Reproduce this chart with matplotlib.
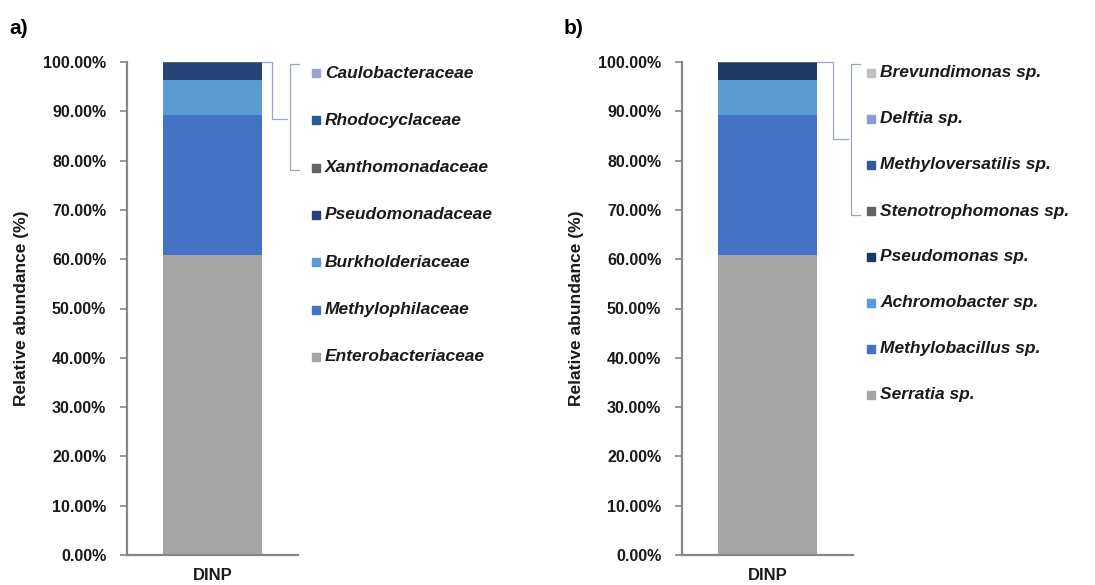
import matplotlib
matplotlib.use("Agg")
import matplotlib.pyplot as plt
from matplotlib.lines import Line2D

plt.rcParams['font.family'] = ['Liberation Sans', 'DejaVu Sans']

# data, listed from bottom of the stack to the top
sample = ["DINP"]

families = ["Enterobacteriaceae", "Methylophilaceae", "Burkholderiaceae",
            "Pseudomonadaceae", "Xanthomonadaceae", "Rhodocyclaceae",
            "Caulobacteraceae"]
family_vals = [60.9, 28.3, 7.1, 3.5, 0.1, 0.05, 0.05]
family_cols = ["#a5a5a5", "#4472c4", "#5b9bd5", "#264478",
               "#636363", "#255e91", "#9e9fd6"]

genera = ["Serratia sp.", "Methylobacillus sp.", "Achromobacter sp.",
          "Pseudomonas sp.", "Stenotrophomonas sp.", "Methyloversatilis sp.",
          "Delftia sp.", "Brevundimonas sp."]
genus_vals = [60.9, 28.3, 7.1, 3.5, 0.1, 0.05, 0.03, 0.02]
genus_cols = ["#a5a5a5", "#4472c4", "#5b9bd5", "#203864",
              "#636363", "#2e5c99", "#8c9bd0", "#c0c0c0"]

yticks = [0, 10, 20, 30, 40, 50, 60, 70, 80, 90, 100]

W, H = 1095, 585
fig = plt.figure(figsize=(W / 100, H / 100), dpi=100)


def fx(x):
    return x / W


def fy(y):
    return 1 - y / H


def pline(xs, ys, color="#9aa6c8"):
    fig.add_artist(Line2D([fx(v) for v in xs], [fy(v) for v in ys],
                          transform=fig.transFigure, color=color, lw=0.9))


def panel(left, letter, names, vals, cols, leg_y0, leg_dy, b1, b2):
    ax = fig.add_axes([fx(left), 30 / H, 171 / W, 493 / H])
    bottom = 0
    for v, c in zip(vals, cols):
        ax.bar(0, v, width=0.58, bottom=bottom, color=c, linewidth=0)
        bottom += v
    ax.set_xlim(-0.5, 0.5)
    ax.set_ylim(0, 100)
    ax.set_yticks(yticks)
    ax.set_yticklabels([f"{t:.2f}%" for t in yticks], fontsize=11.5,
                       fontweight="bold", color="#1a1a1a")
    ax.set_xticks([0])
    ax.set_xticklabels(sample, fontsize=12, fontweight="bold", color="#1a1a1a")
    ax.tick_params(axis="x", length=0, pad=9)
    ax.tick_params(axis="y", length=5, width=1.2, color="#868686", pad=10)
    for s in ["top", "right"]:
        ax.spines[s].set_visible(False)
    for s in ["left", "bottom"]:
        ax.spines[s].set_color("#868686")
        ax.spines[s].set_linewidth(1.6)
    ax.set_ylabel("Relative abundance (%)", fontsize=12.5, fontweight="bold",
                  color="#1a1a1a", labelpad=10)
    fig.text(fx(left - 118), fy(28), letter, fontsize=15, fontweight="bold",
             va="center", ha="left")

    # legend, top entry is the last series
    sq_x = left + 189
    for i, (n, c) in enumerate(zip(names[::-1], cols[::-1])):
        y = leg_y0 + i * leg_dy
        fig.add_artist(Line2D([fx(sq_x)], [fy(y)], transform=fig.transFigure,
                              marker="s", markersize=6, color=c, lw=0))
        fig.text(fx(sq_x + 9), fy(y), n, fontsize=12.5, fontweight="bold",
                 style="italic", va="center", ha="left", color="#1a1a1a")

    # brackets grouping the small taxa
    bx1, by1, bx2 = b1
    pline([left + 135, bx1, bx1, bx2], [62, 62, by1, by1])
    top, bot = b2
    pline([bx2 + 12, bx2 + 3, bx2 + 3, bx2 + 12], [top, top, bot, bot])


panel(127, "a)", families, family_vals, family_cols, 73, 47.3,
      (272, 119, 287), (64, 170))
panel(682, "b)", genera, genus_vals, genus_cols, 73, 46.0,
      (833, 139, 848), (64, 215))

fig.savefig("out.png", dpi=100)
